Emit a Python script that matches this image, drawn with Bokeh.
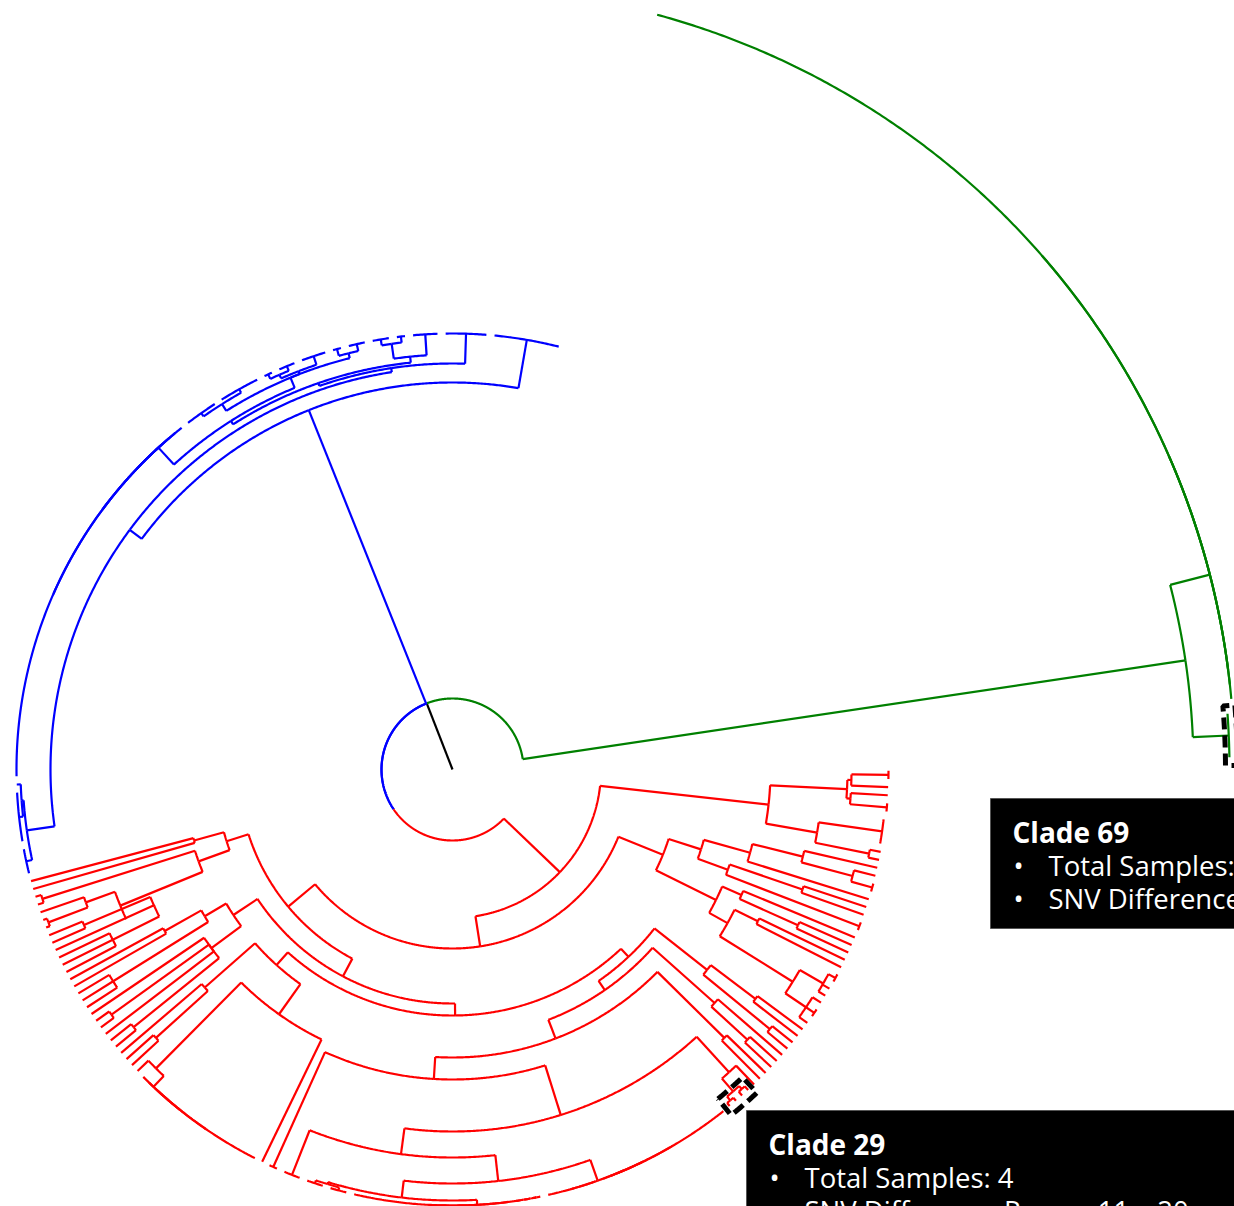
import numpy as np
from bokeh.plotting import figure
from bokeh.models import Range1d
from bokeh.embed import file_html
from bokeh.resources import INLINE
from bokeh.core.properties import value

# ---------------------------------------------------------------- data
# Trees in a compact Newick-like notation:
#   leaf = <number of identical samples>, internal = (child,child,...)
#   optional [name], then @<distance from the root>
ROOT_SPLIT_DEPTH = 71.0

GREEN_TREE = "(4[Clade 69]@777,(1@782,(1@782,64@782)@782)@782)@741"

BLUE_TREE = ("(9@436,((6@436,((4@436,(2@436,3@436)@430)@415,"
             "(((3@436,2@436)@429,(4@436,(3@436,2@436)@431)@427,(6@436,5@436)@432)@424,"
             "(1@436,(1@436,(1@436,47@436)@436)@436)@436)@413)@409)@406,"
             "((1@436,7@436)@432,4@436)@430)@402)@387")

RED_R3A = ("((1@436,1@436)@268,((1@436,1@436)@430,((1@436,(1@436,1@436)@432)@390,"
           "((1@436,1@436)@400,1@436,(1@436,1@436,1@436)@380)@328)@359)@270)@237")
RED_P = ("(((1@436,1@436)@330,(1@436,1@436,1@436)@400)@288,"
         "(1@436,(1@436,1@436)@420,1@436,(1@436,1@436)@410)@300)@263")
RED_N263 = ("((1@436,(1@436,1@436)@400)@330,"
            "((1@436,(1@436,(1@436,(1@436,15@436)@436)@436)@436)@421,1@436)@300)@263")
RED_N431 = "((3@436,3@436)@433,(20@436,(1@436,(1@436,(1@436,1@436)@436)@436)@436)@436)@431"
RED_LAD2 = "(7@436,(1@436,(1@436,16@436)@436)@436)@436"
RED_CLADE29 = "((1@436,1@436)@432,(1@436,1@436)@431)[Clade 29]@427"
RED_N362 = ("((3@436,(" + RED_N431 + "," + RED_LAD2 + ")@414)@388,"
            "(" + RED_CLADE29 + ",1@436)@410)@362")
RED_Y = ("((((2@436," + RED_N362 + ")@310,(1@436,1@436)@382)@288,"
         "((1@436,1@436)@400,1@436)@351)@268,"
         "((1@436,1@436)@410,(1@436,1@436)@380)@324)@257")
RED_R3 = "(" + RED_R3A + ",(" + RED_P + ",(" + RED_N263 + "," + RED_Y + ")@246)@234)@214"
RED_R2A = ("(((((1@436,2@436,1@436)@426,(1@436,1@436,2@436)@428)@401,(1@436,1@436)@341)@315,"
           "((1@436,1@436)@379,1@436)@315)@294,"
           "((2@436,(1@436,1@436)@370)@293,(1@436,((2@436,1@436)@414,1@436)@361)@309)@261)@227")
RED_RIGHT = ("(((1@436,1@436)@425,4@434)@370,"
             "((2@436,1@436)@399,(1@436,2@436)@399)@395)@318")
RED_TREE = "((" + RED_R3 + "," + RED_R2A + ")@179," + RED_RIGHT + ")@148.5"

CLADE_TREES = [GREEN_TREE, BLUE_TREE, RED_TREE]
CLADE_COLORS = ["#008000", "#0000ff", "#ff0000"]
ROOT_COLOR = "#000000"

TIP_CLADES = ["Clade 69", "Clade 29"]
TIP_TOTAL = ["4", "4"]
TIP_SNV = ["0 \u2013 2", "11 \u2013 20"]

# ---------------------------------------------------------------- layout
W, H = 1234, 1206
CENTER_PX = (452, 769)
START_ANGLE = 0.9
TIP_BOX_PX = [(990, 798), (746, 1110)]
TIP_BOX_SIZE = (600, 130)


def parse(s):
    pos = 0

    def node():
        nonlocal pos
        if s[pos] == "(":
            pos += 1
            kids = [node()]
            while s[pos] == ",":
                pos += 1
                kids.append(node())
            pos += 1
            n = {"kids": kids}
        else:
            j = pos
            while s[pos].isdigit():
                pos += 1
            n = {"kids": [], "count": int(s[j:pos])}
        if s[pos] == "[":
            j = s.index("]", pos)
            n["name"] = s[pos + 1:j]
            pos = j + 1
        pos += 1  # '@'
        j = pos
        while pos < len(s) and (s[pos].isdigit() or s[pos] == "."):
            pos += 1
        n["depth"] = float(s[j:pos])
        return n

    return node()


def count(n):
    return n["count"] if not n["kids"] else sum(count(k) for k in n["kids"])


clades = [parse(t) for t in CLADE_TREES]
N = sum(count(t) for t in clades)
STEP = 360.0 / N


def ang(slot):
    return START_ANGLE + slot * STEP


def layout(n, counter, color):
    n["color"] = color
    if not n["kids"]:
        k = n["count"]
        n["slots"] = (counter, counter + k - 1)
        n["angle"] = ang(counter + (k - 1) / 2.0)
        return counter + k
    for kid in n["kids"]:
        counter = layout(kid, counter, color)
    n["angle"] = float(np.mean([kid["angle"] for kid in n["kids"]]))
    n["slots"] = (n["kids"][0]["slots"][0], n["kids"][-1]["slots"][1])
    return counter


slot_counter = 0
for tree, col in zip(clades, CLADE_COLORS):
    slot_counter = layout(tree, slot_counter, col)

green, blue, red = clades
br = {"kids": [blue, red], "depth": ROOT_SPLIT_DEPTH, "color": CLADE_COLORS[1],
      "angle": (blue["angle"] + red["angle"]) / 2.0}
top = {"kids": [green, br], "depth": ROOT_SPLIT_DEPTH, "color": ROOT_COLOR,
       "angle": (green["angle"] + br["angle"]) / 2.0}

xs, ys, cols = [], [], []


def arc(r, a0, a1, col):
    k = max(2, int(abs(a1 - a0) / 0.25) + 2)
    t = np.radians(np.linspace(a0, a1, k))
    xs.append(list(r * np.cos(t)))
    ys.append(list(r * np.sin(t)))
    cols.append(col)


def radial(a, r0, r1, col):
    if r1 - r0 <= 0:
        return
    t = np.radians(a)
    xs.append([r0 * np.cos(t), r1 * np.cos(t)])
    ys.append([r0 * np.sin(t), r1 * np.sin(t)])
    cols.append(col)


named = {}


def draw(n):
    if "name" in n:
        named[n["name"]] = n
    for ch in n["kids"]:
        arc(n["depth"], n["angle"], ch["angle"], ch["color"])
        radial(ch["angle"], n["depth"], ch["depth"], ch["color"])
        if ch["kids"]:
            draw(ch)
        else:
            if "name" in ch:
                named[ch["name"]] = ch
            if ch["count"] > 1:
                arc(ch["depth"], ang(ch["slots"][0]), ang(ch["slots"][1]), ch["color"])


radial(top["angle"], 0, ROOT_SPLIT_DEPTH, ROOT_COLOR)
draw(top)


def max_depth(n):
    return n["depth"] if not n["kids"] else max(max_depth(k) for k in n["kids"])


cx, cy = CENTER_PX
p = figure(width=W, height=H, output_backend="svg", toolbar_location=None,
           x_range=Range1d(-cx, W - cx), y_range=Range1d(cy - H, cy),
           x_axis_type=None, y_axis_type=None, min_border=0,
           background_fill_color="white", border_fill_color="white")
p.grid.visible = False
p.outline_line_color = None

p.multi_line(xs=xs, ys=ys, line_color=cols, line_width=2.2)

# dashed highlight boxes around the selected clades
for name in TIP_CLADES:
    n = named[name]
    a0 = ang(n["slots"][0]) - 0.6
    a1 = ang(n["slots"][1]) + 0.6
    r0 = n["depth"] - 4
    r1 = max_depth(n) + 8
    t = np.radians(np.concatenate([np.linspace(a0, a1, 12), np.linspace(a1, a0, 12), [a0]]))
    rr = np.concatenate([np.full(12, r0), np.full(12, r1), [r0]])
    p.line(x=list(rr * np.cos(t)), y=list(rr * np.sin(t)), line_color="black",
           line_width=5, line_dash="12 6")

# tooltips
for (bx, by), name, tot, snv in zip(TIP_BOX_PX, TIP_CLADES, TIP_TOTAL, TIP_SNV):
    left, top_y = bx - cx, cy - by
    p.quad(left=[left], right=[left + TIP_BOX_SIZE[0]], top=[top_y],
           bottom=[top_y - TIP_BOX_SIZE[1]], fill_color="black",
           line_color="#555555", line_width=1)
    p.text(x=[left + 22], y=[top_y - 33], text=[name], text_color="white",
           text_font=value("Open Sans"), text_font_size="28px", text_font_style="bold",
           text_baseline="middle", text_align="left")
    p.text(x=[left + 23, left + 23], y=[top_y - 67, top_y - 100], text=["\u2022", "\u2022"],
           text_color="white", text_font=value("Open Sans"), text_font_size="27px",
           text_baseline="middle", text_align="left")
    p.text(x=[left + 58, left + 58], y=[top_y - 67, top_y - 100],
           text=["Total Samples: " + tot, "SNV Difference Range: " + snv],
           text_color="white", text_font=value("Open Sans"), text_font_size="27.5px",
           text_baseline="middle", text_align="left")

open("out.html", "w").write(file_html(p, INLINE))
